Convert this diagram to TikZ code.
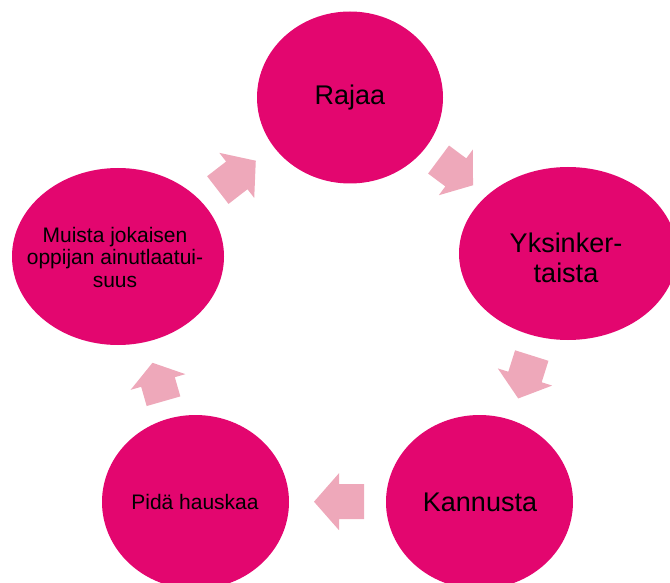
\documentclass[tikz,border=0pt]{standalone}
\usepackage{fontspec}
\setmainfont{Liberation Sans}
\usetikzlibrary{shapes.geometric}
\definecolor{cycmag}{RGB}{227,6,111}
\definecolor{cycpink}{RGB}{238,168,186}
\begin{document}
\begin{tikzpicture}[x=1pt,y=-1pt,
  stage/.style={ellipse, fill=cycmag, draw=none, inner sep=0pt},
  stagetext/.style={align=center, text=black, inner sep=0pt},
  big/.style={font=\fontsize{27}{30}\selectfont},
  small/.style={font=\fontsize{21}{22.5}\selectfont},
  cyc arrow/.pic={\fill[cycpink] (-#1/2,-17.5) -- (0,-17.5) -- (0,-28.5) -- (#1/2,0) -- (0,28.5) -- (0,17.5) -- (-#1/2,17.5) -- cycle;}
]
\useasboundingbox (0,0) rectangle (670,583);
% stages
\node[stage, minimum width=186pt, minimum height=172pt] (rajaa) at (350,97.5) {};
\node[stage, minimum width=218pt, minimum height=173pt] (yks) at (568,253.5) {};
\node[stage, minimum width=187pt, minimum height=174pt] (kann) at (479.5,502) {};
\node[stage, minimum width=187pt, minimum height=174pt] (pida) at (195.5,502) {};
\node[stage, minimum width=212pt, minimum height=177pt] (muista) at (118,256.5) {};
% texts
\node[stagetext, big] (rajaa-t) at (rajaa) {Rajaa};
\node[stagetext, big] (yks-t) at (566,258) {Yksinker-\\taista};
\node[stagetext, big] (kann-t) at (480,502) {Kannusta};
\node[stagetext, small] (pida-t) at (195,502) {Pidä hauskaa};
\node[stagetext, small] (muista-t) at (115,257) {Muista jokaisen\\oppijan ainutlaatui-\\suus};
% arrows
\pic[rotate=37.7] at (236.8,175.4) {cyc arrow=48};
\pic[rotate=-36.7] at (455.8,172.4) {cyc arrow=43};
\pic[rotate=-107.5] at (525,377) {cyc arrow=45};
\pic[rotate=180] at (339,501.7) {cyc arrow=50};
\pic[rotate=106] at (158,382) {cyc arrow=40};
\end{tikzpicture}
\end{document}
